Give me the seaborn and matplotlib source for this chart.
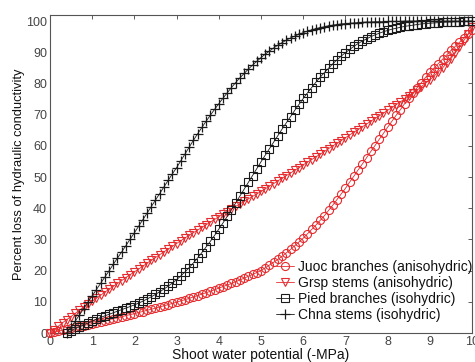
import numpy as np
import pandas as pd
import matplotlib
matplotlib.use("Agg")
import matplotlib.pyplot as plt
import seaborn as sns

# ---- data ----
x_full = [round(0.1 * i, 1) for i in range(101)]          # 0 .. 10 MPa
x_late = [round(0.1 * i, 1) for i in range(4, 101)]       # 0.4 .. 10 MPa

juoc = [0, 0.3, 0.6, 0.9, 1.2, 1.5, 1.8, 2.1, 2.4, 2.7,
        3.0, 3.3, 3.6, 4.0, 4.3, 4.6, 4.9, 5.2, 5.6, 5.9,
        6.2, 6.6, 6.9, 7.3, 7.6, 8.0, 8.4, 8.7, 9.1, 9.5,
        9.9, 10.3, 10.7, 11.1, 11.6, 12.0, 12.5, 12.9, 13.4, 13.9,
        14.4, 14.9, 15.4, 15.9, 16.5, 17.0, 17.6, 18.2, 18.8, 19.4,
        20.0, 20.9, 21.8, 22.7, 23.6, 24.6, 25.7, 26.8, 28.0, 29.2,
        30.4, 31.8, 33.2, 34.6, 36.1, 37.6, 39.3, 41.0, 42.8, 44.6,
        46.4, 48.4, 50.3, 52.3, 54.2, 56.2, 58.2, 60.1, 62.1, 64.0,
        66.0, 67.9, 69.8, 71.6, 73.5, 75.3, 77.0, 78.7, 80.3, 82.0,
        83.6, 85.0, 86.4, 87.8, 89.2, 90.6, 91.9, 93.2, 94.5, 95.7,
        97.0]

grsp = [0, 1.1, 2.2, 3.3, 4.3, 5.3, 6.3, 7.3, 8.3, 9.3,
        10.2, 11.2, 12.1, 13.1, 14.0, 15.0, 15.9, 16.8, 17.8, 18.7,
        19.6, 20.5, 21.4, 22.4, 23.3, 24.2, 25.1, 26.0, 26.9, 27.8,
        28.7, 29.6, 30.5, 31.3, 32.2, 33.0, 33.9, 34.7, 35.6, 36.4,
        37.3, 38.1, 38.9, 39.7, 40.6, 41.4, 42.2, 43.0, 43.8, 44.6,
        45.4, 46.2, 47.1, 47.9, 48.8, 49.6, 50.5, 51.3, 52.2, 53.0,
        53.9, 54.8, 55.6, 56.5, 57.3, 58.2, 59.1, 60.0, 60.8, 61.7,
        62.6, 63.5, 64.4, 65.2, 66.1, 67.0, 67.9, 68.8, 69.6, 70.5,
        71.4, 72.3, 73.2, 74.1, 75.0, 75.9, 76.9, 77.9, 79.0, 80.1,
        81.2, 82.4, 83.7, 85.0, 86.5, 88.0, 89.8, 91.7, 93.7, 95.8,
        98.0]

pied = [0, 0.7, 1.4, 2.0, 2.6, 3.2,
        3.8, 4.4, 5.0, 5.5, 6.0, 6.5, 7.0, 7.5, 8.0, 8.5,
        9.0, 9.6, 10.2, 10.9, 11.6, 12.4, 13.2, 14.1, 15.0, 16.0,
        17.1, 18.3, 19.6, 21.0, 22.5, 24.1, 25.8, 27.6, 29.4, 31.3,
        33.3, 35.3, 37.4, 39.5, 41.7, 43.9, 46.1, 48.3, 50.5, 52.7,
        54.9, 57.0, 59.1, 61.2, 63.3, 65.4, 67.4, 69.4, 71.4, 73.3,
        75.2, 77.0, 78.7, 80.4, 82.0, 83.5, 84.9, 86.3, 87.6, 88.8,
        89.9, 90.9, 91.9, 92.8, 93.6, 94.3, 95.0, 95.6, 96.1, 96.6,
        97.0, 97.4, 97.7, 98.0, 98.3, 98.5, 98.7, 98.9, 99.1, 99.2,
        99.3, 99.4, 99.5, 99.6, 99.7, 99.7, 99.8, 99.8, 99.9, 99.9,
        100.0]

chna = [0, 1.8, 3.8, 5.8, 7.8, 9.9,
        11.9, 13.9, 15.9, 17.9, 19.9, 22.0, 24.0, 26.0, 28.0, 30.1,
        32.1, 34.2, 36.3, 38.4, 40.5, 42.6, 44.7, 46.8, 48.9, 51.0,
        53.0, 55.2, 57.4, 59.6, 61.8, 63.9, 65.9, 67.9, 69.8, 71.7,
        73.5, 75.3, 77.0, 78.7, 80.3, 81.8, 83.2, 84.6, 85.9, 87.1,
        88.3, 89.4, 90.4, 91.4, 92.3, 93.1, 93.9, 94.6, 95.2, 95.8,
        96.3, 96.8, 97.2, 97.6, 97.9, 98.2, 98.5, 98.7, 98.9, 99.1,
        99.2, 99.3, 99.4, 99.5, 99.6, 99.7, 99.7, 99.8, 99.8, 99.8,
        99.9, 99.9, 99.9, 99.9, 100.0, 100.0, 100.0, 100.0, 100.0, 100.0,
        100.0, 100.0, 100.0, 100.0, 100.0, 100.0, 100.0, 100.0, 100.0, 100.0,
        100.0]

labels = ["Juoc branches (anisohydric)", "Grsp stems (anisohydric)",
          "Pied branches (isohydric)", "Chna stems (isohydric)"]
x_ticks = list(range(0, 11))
y_ticks = list(range(0, 101, 10))
x_label = "Shoot water potential (-MPa)"
y_label = "Percent loss of hydraulic conductivity"

# ---- plotting ----
sns.set_style("white")
plt.rcParams["font.family"] = ["Liberation Sans", "DejaVu Sans"]

fig = plt.figure(figsize=(4.75, 3.62), dpi=100)
ax = fig.add_axes([0.105, 0.080, 0.889, 0.879])

series = [
    (x_full, juoc, labels[0], "o", "#e62a2d"),
    (x_full, grsp, labels[1], "v", "#e62a2d"),
    (x_late, pied, labels[2], "s", "#1a1a1a"),
    (x_late, chna, labels[3], "+", "#1a1a1a"),
]
for xs, ys, lab, mk, col in series:
    df = pd.DataFrame({"x": xs, "y": ys})
    plus = mk == "+"
    sns.lineplot(data=df, x="x", y="y", ax=ax, label=lab, color=col,
                 linewidth=0.6, marker=mk,
                 markersize=7.0 if plus else 5.8,
                 markerfacecolor="none", markeredgecolor=col,
                 markeredgewidth=0.9 if plus else 0.8,
                 clip_on=False, zorder=3)

ax.set_xlim(0, 10)
ax.set_ylim(0, 102)
ax.set_xticks(x_ticks)
ax.set_yticks(y_ticks)
ax.set_xticklabels([str(t) for t in x_ticks])
ax.set_yticklabels([str(t) for t in y_ticks])
ax.tick_params(direction="in", length=3, width=0.6, colors="#444444",
               labelsize=9, top=True, right=True, pad=2,
               labelcolor="#444444")
for s in ax.spines.values():
    s.set_color("#555555")
    s.set_linewidth(0.8)

ax.set_xlabel(x_label, fontsize=10, color="#111111", labelpad=0)
ax.set_ylabel(y_label, fontsize=9.3, color="#111111", labelpad=1)

leg = ax.legend(loc="lower right", frameon=False, fontsize=10,
                handlelength=1.3, handletextpad=0.3, labelspacing=0.15,
                borderpad=0.1, borderaxespad=0.0,
                bbox_to_anchor=(1.005, 0.03))
for t in leg.get_texts():
    t.set_color("#111111")

fig.savefig("out.png", dpi=100)
